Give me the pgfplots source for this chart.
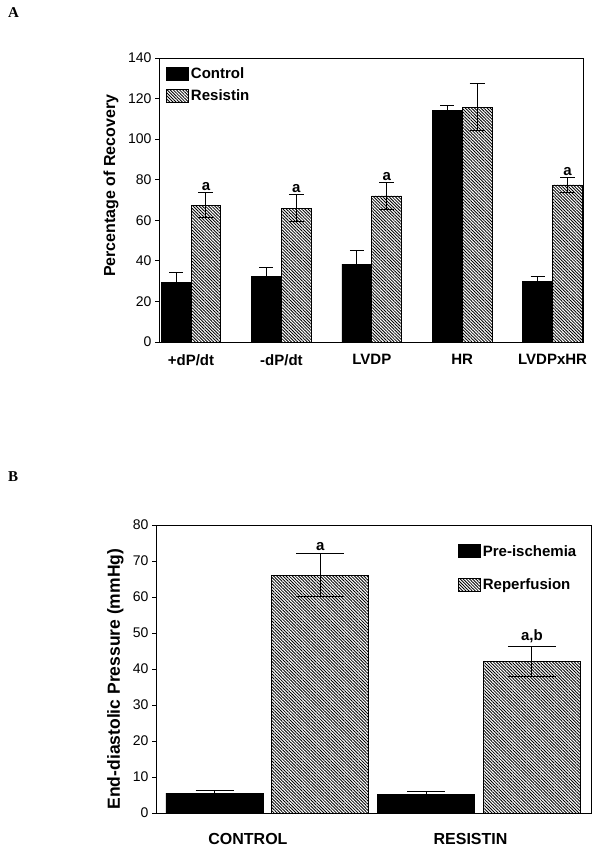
\documentclass[border=0pt]{standalone}
\usepackage{fontspec}
\setmainfont{Liberation Sans}
\newfontfamily\serifbf{Liberation Serif}
\usepackage{pgfplots}
\usepackage{pgfplotstable}
\pgfplotsset{compat=1.18}
\usetikzlibrary{patterns.meta}

\tikzset{hatch/.style={pattern={Lines[angle=-45,distance=2.2pt,line width=0.85pt]}, pattern color=black}}
\pgfplotsset{boxlegend/.style={legend image code/.code={\draw[##1,/tikz/.cd,line width=0.8pt] (0pt,-6.5pt) rectangle (22pt,6.5pt);}}}

% Panel A: Control bars (x = group - 0.165), Resistin (x = group + 0.165)
\pgfplotstableread{
x y e
-0.165 29.3 4.9
0.835 32.1 4.8
1.835 38.4 6.6
2.835 114.2 2.4
3.835 29.7 2.4
}\ctrlA
\pgfplotstableread{
x y e
0.165 67.4 6.2
1.165 65.9 6.6
2.165 72.0 6.6
3.165 115.8 11.7
4.165 77.4 3.7
}\resA
% Panel B
\pgfplotstableread{
x y e
0 5.55 0.65
2 5.1 0.8
}\preB
\pgfplotstableread{
x y e
1 66.1 5.9
3 42.1 4.2
}\repB

\begin{document}
\begin{tikzpicture}
\useasboundingbox (0,0) rectangle (602pt,850pt);
\node[anchor=base west, font=\serifbf\bfseries\fontsize{15}{18}\selectfont, inner sep=0pt] at (8pt,832pt) {A};
\node[anchor=base west, font=\serifbf\bfseries\fontsize{15}{18}\selectfont, inner sep=0pt] at (8pt,368pt) {B};

\begin{axis}[
  at={(159pt,508pt)}, anchor=south west,
  scale only axis, width=424pt, height=284pt,
  xmin=-0.354, xmax=4.336, ymin=0, ymax=140,
  ytick={0,20,...,140},
  xtick={0,1,2,3,4},
  xticklabels={+dP/dt,-dP/dt,LVDP,HR,LVDPxHR},
  x tick style={draw=none},
  ytick pos=left, tick align=outside, major tick length=4pt,
  y tick style={line width=0.9pt,black},
  axis line style={line width=0.9pt},
  /pgf/number format/assume math mode=true,
  yticklabel style={font=\fontsize{14}{16}\selectfont},
  xticklabel style={font=\bfseries\fontsize{15}{18}\selectfont, yshift=-5pt},
  ylabel={Percentage of Recovery},
  ylabel style={font=\bfseries\fontsize{16}{19}\selectfont, at={([xshift=-37pt]axis description cs:0,0.55)}, anchor=south},
  legend style={at={(axis description cs:0.0165,0.975)}, anchor=north west, draw=none, fill=none, inner sep=0pt, font=\bfseries\fontsize{15}{18}\selectfont, row sep=6pt, cells={anchor=west}},
]
\addplot[ybar, bar width=0.33, bar shift=0pt, fill=black, draw=black, line width=0.8pt, boxlegend,
  error bars/.cd, y dir=plus, y explicit, error mark options={rotate=90, mark size=7pt, line width=1.1pt}, error bar style={line width=1.1pt}]
  table[x=x, y=y, y error=e]{\ctrlA};
\addlegendentry{Control}
\addplot[ybar, bar width=0.33, bar shift=0pt, hatch, draw=black, line width=0.8pt, boxlegend,
  error bars/.cd, y dir=both, y explicit, error mark options={rotate=90, mark size=7.5pt, line width=1.1pt}, error bar style={line width=1.1pt}]
  table[x=x, y=y, y error=e]{\resA};
\addlegendentry{Resistin}
\node[font=\bfseries\fontsize{15}{18}\selectfont, anchor=south, inner sep=2pt] at (axis cs:0.165,73.6) {a};
\node[font=\bfseries\fontsize{15}{18}\selectfont, anchor=south, inner sep=2pt] at (axis cs:1.165,72.5) {a};
\node[font=\bfseries\fontsize{15}{18}\selectfont, anchor=south, inner sep=2pt] at (axis cs:2.165,78.6) {a};
\node[font=\bfseries\fontsize{15}{18}\selectfont, anchor=south, inner sep=2pt] at (axis cs:4.165,81.1) {a};
\end{axis}

\begin{axis}[
  at={(156pt,37pt)}, anchor=south west,
  scale only axis, width=435pt, height=288pt,
  xmin=-0.553, xmax=3.559, ymin=0, ymax=80,
  ytick={0,10,...,80},
  xtick={0.316,2.42},
  xticklabels={CONTROL,RESISTIN},
  x tick style={draw=none},
  ytick pos=left, tick align=outside, major tick length=4pt,
  y tick style={line width=0.9pt,black},
  axis line style={line width=0.9pt},
  /pgf/number format/assume math mode=true,
  yticklabel style={font=\fontsize{14}{16}\selectfont},
  xticklabel style={font=\bfseries\fontsize{16}{19}\selectfont, yshift=-13pt},
  ylabel={End-diastolic Pressure (mmHg)},
  ylabel style={font=\bfseries\fontsize{17.5}{20}\selectfont, at={([xshift=-29pt]axis description cs:0,0.465)}, anchor=south},
  legend style={at={(axis description cs:0.694,0.9375)}, anchor=north west, draw=none, fill=none, inner sep=0pt, font=\bfseries\fontsize{15}{18}\selectfont, row sep=17pt, cells={anchor=west}},
]
\addplot[ybar, bar width=0.917, bar shift=0pt, fill=black, draw=black, line width=0.8pt, boxlegend,
  error bars/.cd, y dir=plus, y explicit, error mark options={rotate=90, mark size=19pt, line width=1.1pt}, error bar style={line width=1.1pt}]
  table[x=x, y=y, y error=e]{\preB};
\addlegendentry{Pre-ischemia}
\addplot[ybar, bar width=0.917, bar shift=0pt, hatch, draw=black, line width=0.8pt, boxlegend,
  error bars/.cd, y dir=both, y explicit, error mark options={rotate=90, mark size=24pt, line width=1.1pt}, error bar style={line width=1.1pt}]
  table[x=x, y=y, y error=e]{\repB};
\addlegendentry{Reperfusion}
\node[font=\bfseries\fontsize{15}{18}\selectfont, anchor=south, inner sep=3pt] at (axis cs:1,72.0) {a};
\node[font=\bfseries\fontsize{15}{18}\selectfont, anchor=south, inner sep=3pt] at (axis cs:3,46.3) {a,b};
\end{axis}
\end{tikzpicture}
\end{document}
